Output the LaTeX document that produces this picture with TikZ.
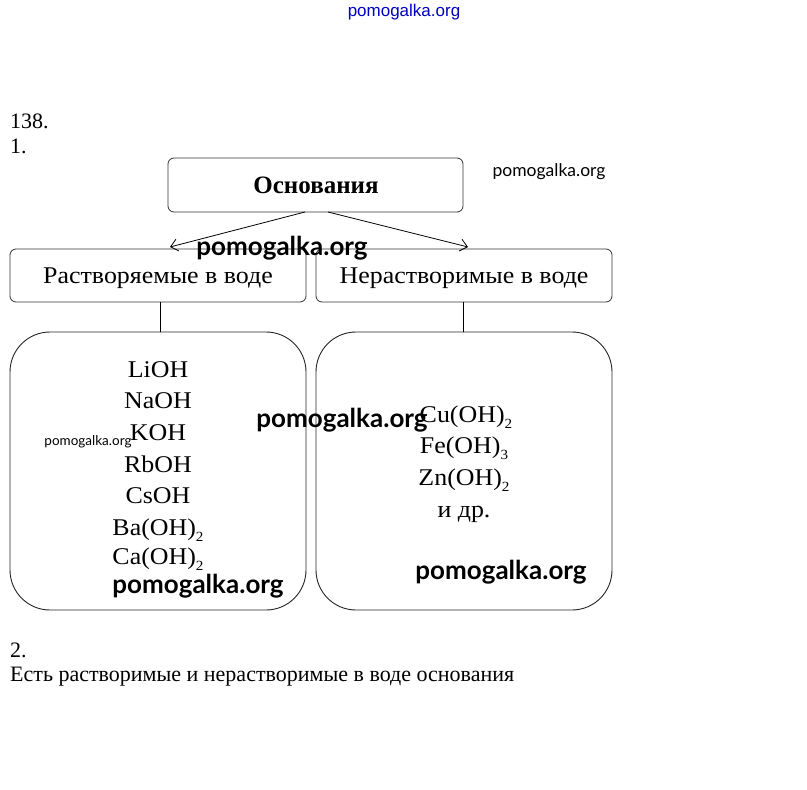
\documentclass[tikz,border=0pt]{standalone}
\usepackage{fontspec}
\setmainfont{Liberation Serif}
\newfontfamily\wideserif[FakeStretch=1.08]{Liberation Serif}
\newfontfamily\wmfont{Lato}
\newfontfamily\topwm{Liberation Sans}
\usetikzlibrary{arrows.meta}
\newcommand{\sbs}[1]{\raisebox{-0.28em}{\fontsize{14}{15}\selectfont #1}}
\begin{document}
\begin{tikzpicture}[x=1pt,y=-1pt,
  box/.style={draw=black!80,line width=0.8pt,rounded corners=6pt},
  bigbox/.style={draw=black!85,line width=0.9pt,rounded corners=40pt},
  lbl/.style={font=\wideserif\fontsize{24}{26}\selectfont,anchor=base,inner sep=0pt},
  chem/.style={font=\wideserif\fontsize{24}{26}\selectfont,anchor=base,inner sep=0pt},
  plain/.style={font=\fontsize{22}{24}\selectfont,anchor=base west,inner sep=0pt},
  wmbig/.style={font=\wmfont\bfseries\fontsize{26}{28}\selectfont,inner sep=0pt},
  wmsmall/.style={font=\wmfont\fontsize{17.5}{19}\selectfont,inner sep=0pt},
  arr/.style={-{Straight Barb[length=7pt,width=12pt]},line width=0.8pt}]
\useasboundingbox (0,0) rectangle (807,790);
\fill[white] (0,0) rectangle (807,790);
% top watermark
\node[font=\topwm\fontsize{17}{19}\selectfont,text=blue!75!black,inner sep=0pt] (wmtop) at (404,12) {pomogalka.org};
% headings
\node[plain] (num) at (10,128) {138.};
\node[plain] (one) at (10,153) {1.};
% boxes
\node[box,minimum width=295pt,minimum height=54pt] (root) at (315.5,185) {};
\node[lbl,font=\bfseries\fontsize{25}{28}\selectfont] (roott) at (316,193) {Основания};
\node[box,minimum width=296pt,minimum height=53pt] (sol) at (158,275.5) {};
\node[lbl] (solt) at (158,283) {Растворяемые в воде};
\node[box,minimum width=296pt,minimum height=53pt] (ins) at (464,275.5) {};
\node[lbl] (inst) at (464,283) {Нерастворимые в воде};
\node[bigbox,minimum width=296pt,minimum height=278pt] (solbox) at (158,471) {};
\node[bigbox,minimum width=296pt,minimum height=278pt] (insbox) at (464,471) {};
% connectors
\coordinate (ra) at (305,212);
\coordinate (rb) at (328,212);
\coordinate (la) at (170,247);
\coordinate (lb) at (468,247);
\draw[arr] (ra) -- (la);
\draw[arr] (rb) -- (lb);
\draw[line width=0.8pt] (sol.south -| 160,0) -- (solbox.north -| 160,0);
\draw[line width=0.8pt] (ins.south -| 463,0) -- (insbox.north -| 463,0);
% left list
\node[chem] (c1) at (158,377) {LiOH};
\node[chem] (c2) at (158,408) {NaOH};
\node[chem] (c3) at (158,440) {KOH};
\node[chem] (c4) at (158,472) {RbOH};
\node[chem] (c5) at (158,503) {CsOH};
\node[chem] (c6) at (158,535) {Ba(OH)\sbs{2}};
\node[chem] (c7) at (158,564) {Ca(OH)\sbs{2}};
% right list
\node[chem] (d1) at (466,422) {Cu(OH)\sbs{2}};
\node[chem] (d2) at (464,453) {Fe(OH)\sbs{3}};
\node[chem] (d3) at (464,485) {Zn(OH)\sbs{2}};
\node[chem] (d4) at (464,517) {и др.};
% part 2
\node[plain] (two) at (10,657) {2.};
\node[plain] (ans) at (10,681) {Есть растворимые и нерастворимые в воде основания};
% watermarks
\node[wmsmall] (w1) at (549,172) {pomogalka.org};
\node[wmbig] (w2) at (282,248) {pomogalka.org};
\node[wmbig] (w3) at (342,420) {pomogalka.org};
\node[wmsmall,font=\wmfont\fontsize{13.5}{15}\selectfont] (w4) at (88,442) {pomogalka.org};
\node[wmbig] (w5) at (198,586) {pomogalka.org};
\node[wmbig] (w6) at (501,572) {pomogalka.org};
\end{tikzpicture}
\end{document}
